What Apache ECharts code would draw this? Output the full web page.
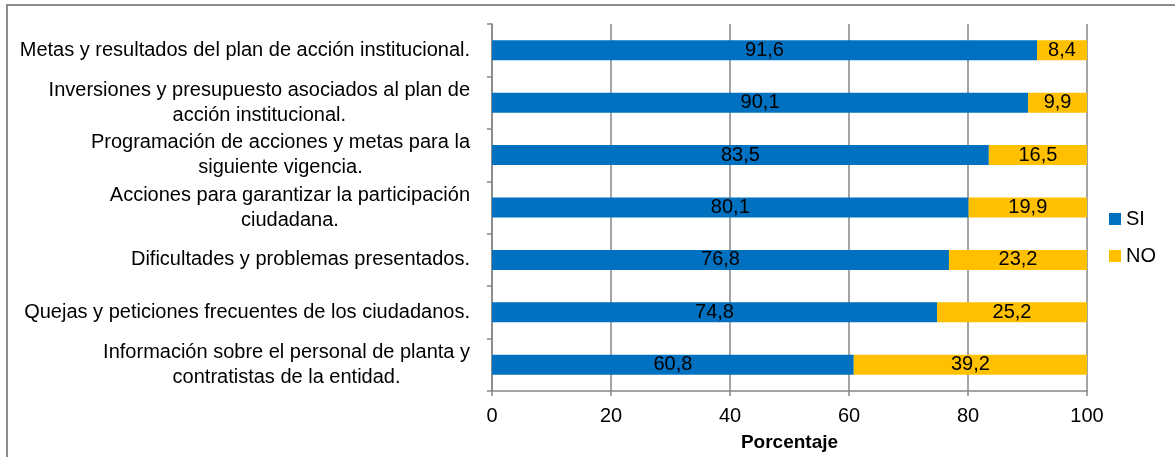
<!DOCTYPE html>
<html>
<head>
<meta charset="utf-8">
<script src="https://cdn.jsdelivr.net/npm/echarts@6/dist/echarts.min.js"></script>
<style>
  html, body { margin: 0; padding: 0; background: #fff; }
  #main { position: absolute; left: 0; top: 0; width: 1175px; height: 457px; }
  #frame { position: absolute; left: 6px; top: 4px; width: 1200px; height: 480px;
           border: 2px solid #8c8c8c; pointer-events: none; box-sizing: border-box; }
</style>
</head>
<body>
<div id="main"></div>
<div id="frame"></div>
<script>
// categories, top to bottom
var categorias = [
    'Metas y resultados del plan de acción institucional.',
    'Inversiones y presupuesto asociados al plan de\nacción institucional.',
    'Programación de acciones y metas para la\nsiguiente vigencia.',
    'Acciones para garantizar la participación\nciudadana.',
    'Dificultades y problemas presentados.',
    'Quejas y peticiones frecuentes de los ciudadanos.',
    'Información sobre el personal de planta y\ncontratistas de la entidad.'
];
var si = [91.6, 90.1, 83.5, 80.1, 76.8, 74.8, 60.8];
var no = [8.4, 9.9, 16.5, 19.9, 23.2, 25.2, 39.2];
var ticksX = [0, 20, 40, 60, 80, 100];

var fuente = '"Liberation Sans", Arial, sans-serif';
var gris = '#868686';

var chartDom = document.getElementById('main');
var myChart = echarts.init(chartDom);

function coma(p) {
    return String(p.value).replace('.', ',');
}

var option = {
    animation: false,
    textStyle: { fontFamily: fuente },
    grid: { left: 492, right: 88, top: 24, bottom: 66 },
    legend: {
        orient: 'vertical',
        left: 1104,
        top: 204,
        itemWidth: 12,
        itemHeight: 12,
        itemGap: 17,
        icon: 'rect',
        textStyle: { fontSize: 20, color: '#000', fontFamily: fuente },
        data: ['SI', 'NO']
    },
    xAxis: {
        type: 'value',
        min: ticksX[0],
        max: ticksX[ticksX.length - 1],
        interval: 20,
        name: 'Porcentaje',
        nameLocation: 'middle',
        nameGap: 42,
        nameTextStyle: { fontSize: 19, fontWeight: 'bold', color: '#000', fontFamily: fuente },
        axisLine: { show: true, lineStyle: { color: gris, width: 1.5 } },
        axisTick: { show: true, length: 5, lineStyle: { color: gris, width: 1.5 } },
        axisLabel: { fontSize: 20, color: '#000', margin: 15, fontFamily: fuente },
        splitLine: { show: true, lineStyle: { color: gris, width: 1.5 } }
    },
    yAxis: {
        type: 'category',
        inverse: true,
        data: categorias,
        axisLine: { show: true, lineStyle: { color: gris, width: 1.5 } },
        axisTick: { show: true, length: 5, lineStyle: { color: gris, width: 1.5 } },
        axisLabel: {
            margin: 22,
            color: '#000',
            formatter: function (v) {
                return v.split('\n').map(function (l) { return '{c|' + l + '}'; }).join('\n');
            },
            rich: {
                c: { align: 'center', fontSize: 20, lineHeight: 25, color: '#000', fontFamily: fuente }
            }
        }
    },
    series: [
        {
            name: 'SI',
            type: 'bar',
            stack: 'total',
            barWidth: 20,
            data: si,
            itemStyle: { color: '#0070C0' },
            label: { show: true, position: 'inside', color: '#000', fontSize: 20, fontFamily: fuente, formatter: coma }
        },
        {
            name: 'NO',
            type: 'bar',
            stack: 'total',
            barWidth: 20,
            data: no,
            itemStyle: { color: '#FFC000' },
            label: { show: true, position: 'inside', color: '#000', fontSize: 20, fontFamily: fuente, formatter: coma }
        }
    ]
};

myChart.setOption(option);
</script>
</body>
</html>
